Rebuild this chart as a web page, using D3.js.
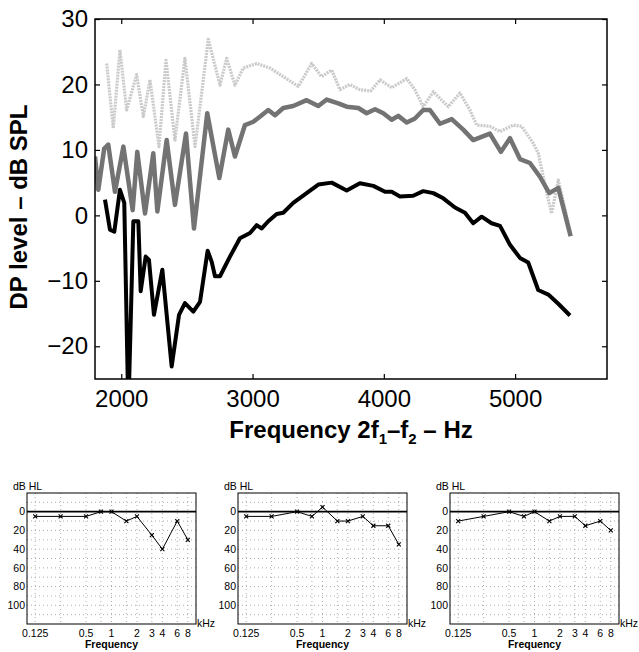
<!DOCTYPE html>
<html>
<head>
<meta charset="utf-8">
<script src="https://cdn.jsdelivr.net/npm/d3@7"></script>
<style>
  body { margin: 0; background: #fff; }
  text { font-family: "Liberation Sans", Arial, Helvetica, sans-serif; }
</style>
</head>
<body>
<script>
// DP-gram (top) + three audiograms (bottom)

var W = 639, H = 652;

// DP curves, frequency in Hz and level in dB SPL
var lightFreq = [1889,1939,1990,2041,2117,2168,2219,2287,2341,2409,2485,2562,2663,2752,2803,2866,2929,3031,3133,3234,3349,3450,3526,3603,3666,3740,3818,3900,3971,4060,4174,4237,4300,4377,4491,4580,4656,4707,4808,4885,4986,5050,5138,5176,5253,5278,5329,5423];
var lightLevel = [23.2,13.3,25.3,16.1,21.5,15.1,20.7,10.5,23.7,11.5,24.0,10.5,26.9,19.9,24.0,19.9,22.5,23.2,22.5,21.2,19.7,23.2,21.2,22.2,19.2,20.0,19.2,19.0,20.7,19.5,20.9,19.2,16.6,18.9,16.6,18.7,16.1,13.8,13.6,12.8,13.8,13.6,11.0,9.5,2.4,0.3,5.4,-2.7];

var midFreq = [1800,1825,1870,1901,1952,2016,2087,2122,2181,2244,2275,2346,2409,2493,2554,2655,2747,2815,2866,2942,3006,3070,3120,3171,3234,3310,3412,3501,3565,3653,3717,3806,3869,3933,3996,4060,4110,4174,4237,4300,4351,4428,4517,4605,4681,4808,4892,4961,5037,5113,5189,5260,5329,5423];
var midLevel = [9.0,3.9,10.2,10.8,3.6,10.5,0.8,9.7,0.3,9.5,0.6,11.5,1.6,12.5,-2.0,15.6,5.7,13.1,9.0,13.8,14.3,15.3,16.1,15.3,16.4,16.7,17.6,16.7,17.7,17.1,16.6,16.4,15.6,16.2,15.6,14.6,15.2,14.2,14.8,16.1,16.1,14.0,14.7,13.1,11.5,12.5,9.7,11.8,8.6,8.0,5.9,3.4,4.2,-3.2];

var darkFreq = [1876,1914,1947,1990,2023,2054,2092,2130,2148,2186,2211,2249,2313,2384,2440,2485,2549,2600,2658,2689,2714,2752,2828,2904,2981,3031,3070,3120,3184,3234,3310,3412,3501,3603,3717,3818,3920,4009,4060,4123,4224,4300,4377,4453,4542,4618,4681,4745,4821,4885,4961,5037,5100,5176,5253,5329,5418];
var darkLevel = [2.4,-2.2,-2.5,3.9,1.9,-30,-0.9,-0.9,-11.6,-6.3,-6.8,-15.2,-8.3,-23.1,-15.2,-13.4,-14.7,-13.2,-5.4,-7.1,-9.3,-9.3,-6.3,-3.5,-2.7,-1.5,-2.0,-0.9,0.2,0.4,1.9,3.4,4.7,5.0,3.8,4.9,4.5,3.6,3.6,2.9,3.0,3.7,3.4,2.6,1.2,0.4,-1.2,-0.2,-1.2,-1.6,-4.5,-6.5,-7.2,-11.4,-12.1,-13.5,-15.3];

var dpXTicks = [2000, 3000, 4000, 5000];
var dpYTicks = [-20, -10, 0, 10, 20, 30];

// audiograms, hearing level in dB HL
var audioFreq = [0.125, 0.25, 0.5, 0.75, 1, 1.5, 2, 3, 4, 6, 8];
var hl1 = [5, 5, 5, 0, 0, 10, 5, 25, 40, 10, 30];
var hl2 = [5, 5, 0, 5, -5, 10, 10, 5, 15, 15, 35];
var hl3 = [10, 5, 0, 5, 0, 10, 5, 5, 15, 10, 20];
var hlTicks = [0, 20, 40, 60, 80, 100];
var kHzTicks = [0.125, 0.5, 1, 2, 3, 4, 6, 8];
var kHzGrid = [0.125, 0.25, 0.5, 0.75, 1, 1.5, 2, 3, 4, 6, 8];
var hlGrid = [-10, 10, 20, 30, 40, 50, 60, 70, 80, 90, 100, 110];

var svg = d3.select("body").append("svg")
    .attr("width", W)
    .attr("height", H);

// ---------- main DP plot ----------
var m = {left: 95, top: 19, right: 607, bottom: 379};

var x = d3.scaleLinear().domain([1800, 5700]).range([m.left, m.right]);
var y = d3.scaleLinear().domain([-25, 30]).range([m.bottom, m.top]);

svg.append("clipPath").attr("id", "clip")
  .append("rect")
    .attr("x", m.left).attr("y", m.top)
    .attr("width", m.right - m.left).attr("height", m.bottom - m.top);

var line = d3.line()
    .x(function(d) { return x(d[0]); })
    .y(function(d) { return y(d[1]); });

var curves = [
  {f: lightFreq, v: lightLevel, color: "#cacaca", width: 3.2, dash: "2,1"},
  {f: midFreq, v: midLevel, color: "#737373", width: 4.5, dash: null},
  {f: darkFreq, v: darkLevel, color: "#000", width: 4, dash: null}
];

var plot = svg.append("g").attr("clip-path", "url(#clip)");
curves.forEach(function(c) {
  plot.append("path")
    .datum(d3.zip(c.f, c.v))
    .attr("d", line)
    .attr("fill", "none")
    .attr("stroke", c.color)
    .attr("stroke-width", c.width)
    .attr("stroke-linejoin", "round")
    .attr("stroke-dasharray", c.dash);
});

// axes, MATLAB style: ticks point inward
var bigFont = "24px";

var gx = svg.append("g")
    .attr("transform", "translate(0," + m.bottom + ")")
    .call(d3.axisBottom(x).tickValues(dpXTicks).tickSize(-5).tickPadding(11).tickFormat(d3.format("d")));
var gxTop = svg.append("g")
    .attr("transform", "translate(0," + m.top + ")")
    .call(d3.axisTop(x).tickValues(dpXTicks).tickSize(-5).tickFormat(""));
var gy = svg.append("g")
    .attr("transform", "translate(" + m.left + ",0)")
    .call(d3.axisLeft(y).tickValues(dpYTicks).tickSize(-5).tickPadding(7));
var gyRight = svg.append("g")
    .attr("transform", "translate(" + m.right + ",0)")
    .call(d3.axisRight(y).tickValues(dpYTicks).tickSize(-5).tickFormat(""));

[gx, gxTop, gy, gyRight].forEach(function(g) {
  g.select(".domain").remove();
  g.selectAll("line").attr("stroke", "#000").attr("stroke-width", 1.2);
  g.selectAll("text").attr("font-size", bigFont).attr("fill", "#000")
    .attr("font-family", "Liberation Sans, Arial, sans-serif");
});
gx.selectAll("text").attr("dy", "0.71em");

svg.append("rect")
    .attr("x", m.left).attr("y", m.top)
    .attr("width", m.right - m.left).attr("height", m.bottom - m.top)
    .attr("fill", "none")
    .attr("stroke", "#000")
    .attr("stroke-width", 1.5);

svg.append("text")
    .attr("transform", "translate(27," + ((m.top + m.bottom) / 2 + 8) + ") rotate(-90)")
    .attr("text-anchor", "middle")
    .attr("font-size", "24px")
    .attr("font-weight", "bold")
    .text("DP level \u2013 dB SPL");

var xl = svg.append("text")
    .attr("x", (m.left + m.right) / 2)
    .attr("y", 438)
    .attr("text-anchor", "middle")
    .attr("font-size", "24px")
    .attr("font-weight", "bold");
xl.append("tspan").text("Frequency 2f");
xl.append("tspan").attr("font-size", "15px").attr("dy", 6).text("1");
xl.append("tspan").attr("dy", -6).text("\u2013f");
xl.append("tspan").attr("font-size", "15px").attr("dy", 6).text("2");
xl.append("tspan").attr("dy", -6).text(" \u2013 Hz");

// ---------- audiograms ----------
var aw = 169, ah = 131, atop = 493;
var lefts = [27, 238, 450];
var series = [hl1, hl2, hl3];
var smallFont = "10.5px";

series.forEach(function(hl, i) {
  var g = svg.append("g").attr("transform", "translate(" + lefts[i] + "," + atop + ")");
  var ax = d3.scaleLog().domain([0.1, 10]).range([0, aw]);
  var ay = d3.scaleLinear().domain([-20, 120]).range([0, ah]);

  g.selectAll(".vg").data(kHzGrid).enter().append("line")
      .attr("x1", function(d) { return ax(d); })
      .attr("x2", function(d) { return ax(d); })
      .attr("y1", 0).attr("y2", ah)
      .attr("stroke", "#999").attr("stroke-width", 0.8)
      .attr("stroke-dasharray", "1,3");

  g.selectAll(".hg").data(hlGrid).enter().append("line")
      .attr("x1", 0).attr("x2", aw)
      .attr("y1", function(d) { return ay(d); })
      .attr("y2", function(d) { return ay(d); })
      .attr("stroke", "#999").attr("stroke-width", 0.8)
      .attr("stroke-dasharray", "1,3");

  g.append("line")
      .attr("x1", 0).attr("x2", aw)
      .attr("y1", ay(0)).attr("y2", ay(0))
      .attr("stroke", "#000").attr("stroke-width", 1.8);

  g.append("rect")
      .attr("width", aw).attr("height", ah)
      .attr("fill", "none").attr("stroke", "#000").attr("stroke-width", 1);

  var pts = d3.zip(audioFreq, hl);
  g.append("path")
      .datum(pts)
      .attr("d", d3.line().x(function(d) { return ax(d[0]); }).y(function(d) { return ay(d[1]); }))
      .attr("fill", "none").attr("stroke", "#000").attr("stroke-width", 1);

  g.selectAll(".mk").data(pts).enter().append("path")
      .attr("transform", function(d) { return "translate(" + ax(d[0]) + "," + ay(d[1]) + ")"; })
      .attr("d", "M-2,-2L2,2M-2,2L2,-2")
      .attr("stroke", "#000").attr("stroke-width", 1.1);

  g.selectAll(".yt").data(hlTicks).enter().append("text")
      .attr("x", -2).attr("y", function(d) { return ay(d); })
      .attr("dy", "0.35em")
      .attr("text-anchor", "end")
      .attr("font-size", smallFont)
      .text(function(d) { return d; });

  g.selectAll(".xt").data(kHzTicks).enter().append("text")
      .attr("x", function(d) { return ax(d); }).attr("y", ah + 13)
      .attr("text-anchor", "middle")
      .attr("font-size", smallFont)
      .text(function(d) { return d; });

  g.append("text").attr("x", aw + 1).attr("y", ah + 3)
      .attr("font-size", smallFont).text("kHz");
  g.append("text").attr("x", aw / 2).attr("y", ah + 24)
      .attr("text-anchor", "middle")
      .attr("font-size", smallFont).attr("font-weight", "bold").text("Frequency");
  g.append("text").attr("x", -14).attr("y", -3)
      .attr("font-size", smallFont).text("dB HL");
});
</script>
</body>
</html>
